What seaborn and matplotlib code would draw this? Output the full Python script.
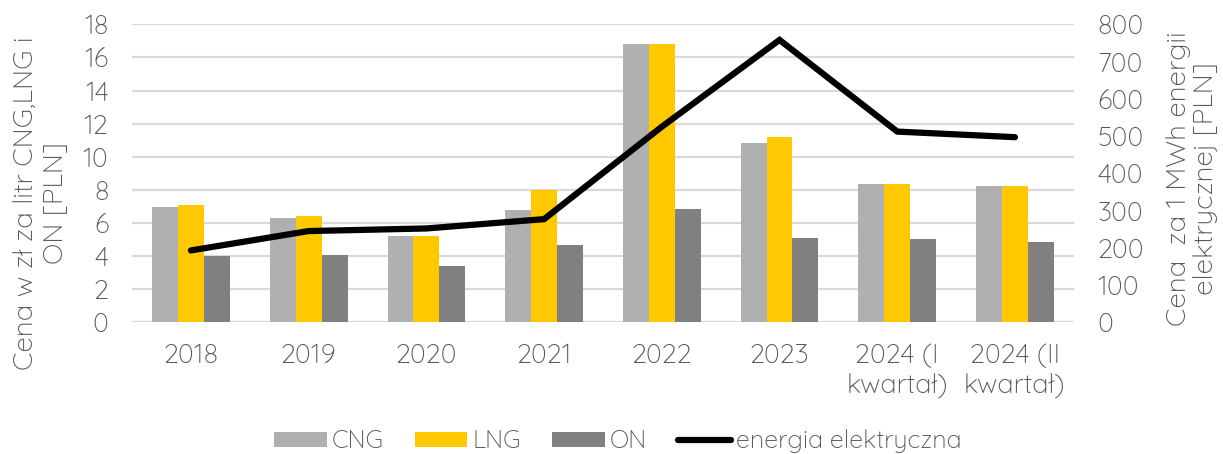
import matplotlib
matplotlib.use("Agg")
import matplotlib.pyplot as plt
import seaborn as sns
import pandas as pd
from matplotlib.patches import Patch
from matplotlib.lines import Line2D

# Data
categories = ["2018", "2019", "2020", "2021", "2022", "2023",
              "2024 (I\nkwartał)", "2024 (II\nkwartał)"]
cng = [6.94, 6.28, 5.19, 6.76, 16.79, 10.81, 8.37, 8.23]
lng = [7.08, 6.40, 5.19, 8.01, 16.79, 11.21, 8.37, 8.23]
on = [4.03, 4.06, 3.38, 4.65, 6.87, 5.07, 5.01, 4.87]
energia = [193, 245, 252, 277, 525, 758, 512, 497]

left_ticks = [0, 2, 4, 6, 8, 10, 12, 14, 16, 18]
right_ticks = [0, 100, 200, 300, 400, 500, 600, 700, 800]

fuels = ["CNG", "LNG", "ON"]
palette = {"CNG": "#B0B0B0", "LNG": "#FFC800", "ON": "#808080"}
text_color = "#595959"
grid_color = "#D9D9D9"
tick_fs = 19.5
label_fs = 20
legend_fs = 18

df = pd.DataFrame({
    "kategoria": categories * 3,
    "paliwo": ["CNG"] * 8 + ["LNG"] * 8 + ["ON"] * 8,
    "cena": cng + lng + on,
})

sns.set_theme(style="white")
plt.rcParams["font.family"] = ["Quicksand", "DejaVu Sans"]
plt.rcParams["font.weight"] = 300

fig = plt.figure(figsize=(12.23, 4.54), dpi=100)
ax = fig.add_axes([0.108, 0.29, 0.770, 0.6565])

sns.barplot(data=df, x="kategoria", y="cena", hue="paliwo", order=categories,
            hue_order=fuels, palette=palette, saturation=1, width=0.66, gap=0,
            edgecolor="none", linewidth=0, ax=ax, legend=False)

ax.set_ylim(0, 18)
ax.set_yticks(left_ticks)
ax.set_xlim(-0.5, len(categories) - 0.5)
ax.yaxis.grid(True, color=grid_color, linewidth=1.6)
ax.set_axisbelow(True)
for s in ax.spines.values():
    s.set_visible(False)
ax.tick_params(axis="y", length=0, pad=17, labelsize=tick_fs, labelcolor=text_color)
ax.tick_params(axis="x", length=0, pad=15, labelsize=tick_fs, labelcolor=text_color)
for t in ax.get_xticklabels():
    t.set_linespacing(1.22)
ax.set_xlabel("")
ax.set_ylabel("Cena w zł za litr CNG,LNG i\nON [PLN]", fontsize=label_fs,
              color=text_color, linespacing=1.25, va="center", ha="center")
ax.yaxis.set_label_coords(-0.0977, 0.40)

ax2 = ax.twinx()
sns.lineplot(x=categories, y=energia, ax=ax2, color="black", linewidth=4.5,
             sort=False, solid_capstyle="round", solid_joinstyle="miter")
ax2.set_ylim(0, 800)
ax2.set_yticks(right_ticks)
for s in ax2.spines.values():
    s.set_visible(False)
ax2.tick_params(axis="y", length=0, pad=17, labelsize=tick_fs, labelcolor=text_color)
ax2.set_ylabel("Cena  za 1 MWh energii\nelektrycznej [PLN]", fontsize=label_fs,
               color=text_color, linespacing=1.08, va="center", ha="center")
ax2.yaxis.set_label_coords(1.1253, 0.481)

handles = [Patch(facecolor=palette[f], edgecolor="none") for f in fuels]
handles.append(Line2D([0], [0], color="black", linewidth=4.5, solid_capstyle="round"))
labels = fuels + ["energia elektryczna"]
leg = fig.legend(handles, labels, loc="center", bbox_to_anchor=(0.505, 0.028),
                 ncol=4, frameon=False, fontsize=legend_fs, handlelength=2.1,
                 handleheight=0.5, handletextpad=0.2, columnspacing=1.25)
for t in leg.get_texts():
    t.set_color(text_color)

fig.savefig("out.png", dpi=100)
